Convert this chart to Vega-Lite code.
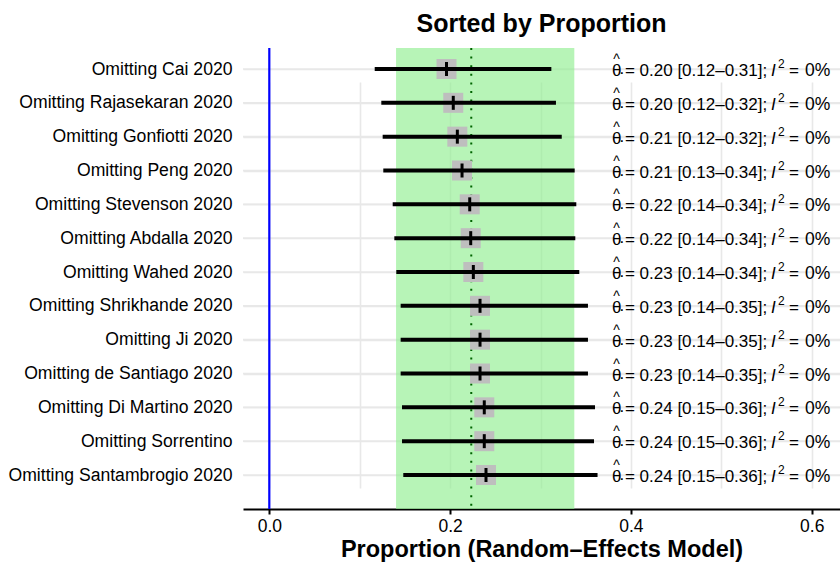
{
  "$schema": "https://vega.github.io/schema/vega-lite/v6.json",
  "width": 597,
  "height": 461,
  "autosize": "none",
  "padding": {"left": 243, "top": 48, "right": 0, "bottom": 54},
  "background": "white",
  "config": {
    "view": {"stroke": null},
    "font": "Liberation Sans"
  },
  "title": {
    "text": "Sorted by Proportion",
    "fontSize": 25,
    "fontWeight": "bold",
    "font": "Liberation Sans",
    "color": "black",
    "anchor": "middle",
    "frame": "group",
    "baseline": "alphabetic",
    "offset": 15,
    "dy": 25
  },
  "datasets": {
    "studies": [
      {"label": "Omitting Cai 2020", "est": 0.196, "lo": 0.1166, "hi": 0.312, "txt": "= 0.20 [0.12–0.31];"},
      {"label": "Omitting Rajasekaran 2020", "est": 0.2035, "lo": 0.1239, "hi": 0.3171, "txt": "= 0.20 [0.12–0.32];"},
      {"label": "Omitting Gonfiotti 2020", "est": 0.208, "lo": 0.1254, "hi": 0.3235, "txt": "= 0.21 [0.12–0.32];"},
      {"label": "Omitting Peng 2020", "est": 0.2132, "lo": 0.1261, "hi": 0.3378, "txt": "= 0.21 [0.13–0.34];"},
      {"label": "Omitting Stevenson 2020", "est": 0.2217, "lo": 0.1365, "hi": 0.3396, "txt": "= 0.22 [0.14–0.34];"},
      {"label": "Omitting Abdalla 2020", "est": 0.2228, "lo": 0.1383, "hi": 0.3385, "txt": "= 0.22 [0.14–0.34];"},
      {"label": "Omitting Wahed 2020", "est": 0.2257, "lo": 0.1405, "hi": 0.3429, "txt": "= 0.23 [0.14–0.34];"},
      {"label": "Omitting Shrikhande 2020", "est": 0.2331, "lo": 0.1453, "hi": 0.3525, "txt": "= 0.23 [0.14–0.35];"},
      {"label": "Omitting Ji 2020", "est": 0.2331, "lo": 0.1453, "hi": 0.3525, "txt": "= 0.23 [0.14–0.35];"},
      {"label": "Omitting de Santiago 2020", "est": 0.2331, "lo": 0.1453, "hi": 0.3525, "txt": "= 0.23 [0.14–0.35];"},
      {"label": "Omitting Di Martino 2020", "est": 0.2378, "lo": 0.1468, "hi": 0.3603, "txt": "= 0.24 [0.15–0.36];"},
      {"label": "Omitting Sorrentino", "est": 0.2378, "lo": 0.1468, "hi": 0.3592, "txt": "= 0.24 [0.15–0.36];"},
      {"label": "Omitting Santambrogio 2020", "est": 0.2397, "lo": 0.1482, "hi": 0.3631, "txt": "= 0.24 [0.15–0.36];"}
    ],
    "pooled": [
      {"est": 0.2234, "lo": 0.1402, "hi": 0.3374}
    ]
  },
  "encoding": {
    "x": {
      "type": "quantitative",
      "scale": {"domain": [-0.0291, 0.6313], "nice": false, "zero": false},
      "axis": {
        "title": "Proportion (Random–Effects Model)",
        "titleFontSize": 23.5,
        "titleFontWeight": "bold",
        "titleColor": "black",
        "titlePadding": 3,
        "values": [0, 0.1, 0.2, 0.3, 0.4, 0.5, 0.6],
        "labelExpr": "round(datum.value*10) % 2 == 0 ? format(datum.value, '.1f') : ''",
        "labelFontSize": 17.5,
        "labelColor": "black",
        "labelPadding": 3,
        "labelFlush": false,
        "labelOverlap": false,
        "domainColor": "black",
        "domainWidth": 2,
        "tickColor": "black",
        "tickWidth": 2,
        "tickSize": 5,
        "tickOpacity": {"condition": {"test": "round(datum.value*10) % 2 == 1", "value": 0}, "value": 1},
        "grid": true,
        "gridColor": "#e8e8e8",
        "gridWidth": 1.6
      }
    }
  },
  "layer": [
    {
      "data": {"name": "studies"},
      "mark": {"type": "rule", "strokeWidth": 1.6, "color": "#e8e8e8"},
      "encoding": {
        "y": {
          "field": "label",
          "type": "nominal",
          "sort": null,
          "scale": {"type": "point", "range": [21, 427], "padding": 0},
          "axis": {
            "title": null,
            "domain": false,
            "ticks": false,
            "grid": true,
            "gridColor": "#e8e8e8",
            "gridWidth": 1.6,
            "labelFontSize": 17.6,
            "labelColor": "black",
            "labelPadding": 11,
            "labelLimit": 400
          }
        }
      }
    },
    {
      "data": {"name": "pooled"},
      "mark": {"type": "rect", "color": "#90ee90", "opacity": 0.65},
      "encoding": {"x": {"field": "lo", "type": "quantitative"}, "x2": {"field": "hi"}}
    },
    {
      "data": {"name": "pooled"},
      "mark": {"type": "rule", "color": "#0000ff", "strokeWidth": 2.2},
      "encoding": {"x": {"datum": 0, "type": "quantitative"}}
    },
    {
      "data": {"name": "pooled"},
      "mark": {"type": "rule", "color": "#006400", "strokeWidth": 2, "strokeDash": [2, 6.6], "strokeCap": "butt"},
      "encoding": {"x": {"field": "est", "type": "quantitative"}}
    },
    {
      "data": {"name": "studies"},
      "mark": {"type": "point", "shape": "square", "filled": true, "size": 400, "color": "#bebebe", "opacity": 1},
      "encoding": {
        "x": {"field": "est", "type": "quantitative"},
        "y": {"field": "label", "type": "nominal", "sort": null}
      }
    },
    {
      "data": {"name": "studies"},
      "mark": {"type": "rule", "color": "black", "strokeWidth": 4},
      "encoding": {
        "x": {"field": "lo", "type": "quantitative"},
        "x2": {"field": "hi"},
        "y": {"field": "label", "type": "nominal", "sort": null}
      }
    },
    {
      "data": {"name": "studies"},
      "mark": {"type": "tick", "orient": "vertical", "color": "black", "size": 14, "thickness": 3, "opacity": 1},
      "encoding": {
        "x": {"field": "est", "type": "quantitative"},
        "y": {"field": "label", "type": "nominal", "sort": null}
      }
    },
    {
      "data": {"name": "studies"},
      "mark": {"type": "text", "text": "θ", "align": "left", "baseline": "middle", "fontSize": 17, "dy": 2, "color": "black"},
      "encoding": {
        "x": {"datum": 0.379, "type": "quantitative"},
        "y": {"field": "label", "type": "nominal", "sort": null}
      }
    },
    {
      "data": {"name": "studies"},
      "mark": {"type": "text", "text": "^", "align": "center", "baseline": "middle", "fontSize": 14, "dx": 4.5, "dy": -9, "color": "black"},
      "encoding": {
        "x": {"datum": 0.379, "type": "quantitative"},
        "y": {"field": "label", "type": "nominal", "sort": null}
      }
    },
    {
      "data": {"name": "studies"},
      "mark": {"type": "text", "text": "·", "align": "left", "baseline": "middle", "fontSize": 17, "dx": 7, "dy": 4, "color": "black"},
      "encoding": {
        "x": {"datum": 0.379, "type": "quantitative"},
        "y": {"field": "label", "type": "nominal", "sort": null}
      }
    },
    {
      "data": {"name": "studies"},
      "mark": {"type": "text", "align": "left", "baseline": "middle", "fontSize": 17, "dx": 13, "dy": 2, "color": "black"},
      "encoding": {
        "x": {"datum": 0.379, "type": "quantitative"},
        "y": {"field": "label", "type": "nominal", "sort": null},
        "text": {"field": "txt"}
      }
    },
    {
      "data": {"name": "studies"},
      "mark": {"type": "text", "text": "I", "align": "left", "baseline": "middle", "fontSize": 17, "fontStyle": "italic", "dx": 159, "dy": 2, "color": "black"},
      "encoding": {
        "x": {"datum": 0.379, "type": "quantitative"},
        "y": {"field": "label", "type": "nominal", "sort": null}
      }
    },
    {
      "data": {"name": "studies"},
      "mark": {"type": "text", "text": "2", "align": "left", "baseline": "middle", "fontSize": 12, "dx": 166, "dy": -5, "color": "black"},
      "encoding": {
        "x": {"datum": 0.379, "type": "quantitative"},
        "y": {"field": "label", "type": "nominal", "sort": null}
      }
    },
    {
      "data": {"name": "studies"},
      "mark": {"type": "text", "text": "=", "align": "left", "baseline": "middle", "fontSize": 17, "dx": 177, "dy": 2, "color": "black"},
      "encoding": {
        "x": {"datum": 0.379, "type": "quantitative"},
        "y": {"field": "label", "type": "nominal", "sort": null}
      }
    },
    {
      "data": {"name": "studies"},
      "mark": {"type": "text", "text": "0%", "align": "left", "baseline": "middle", "fontSize": 17.5, "dx": 193, "dy": 2, "color": "black"},
      "encoding": {
        "x": {"datum": 0.379, "type": "quantitative"},
        "y": {"field": "label", "type": "nominal", "sort": null}
      }
    }
  ]
}
